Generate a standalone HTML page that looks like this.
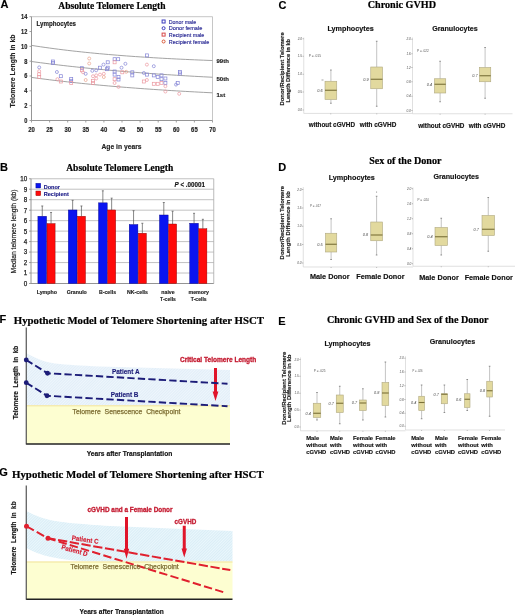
<!DOCTYPE html>
<html><head><meta charset="utf-8"><title>Telomere figure</title>
<style>
html,body{margin:0;padding:0;background:#fff;}
svg{display:block;filter:blur(0.35px);}
.s{font-family:"Liberation Sans", sans-serif;}
.r{font-family:"Liberation Serif", serif;}
</style></head>
<body>
<svg width="520" height="615" viewBox="0 0 520 615">
<defs>
<pattern id="hatch" patternUnits="userSpaceOnUse" width="2.0" height="2.0" patternTransform="rotate(45)">
<rect width="2.0" height="2.0" fill="#eef6fc"/>
<line x1="0" y1="0" x2="0" y2="2.0" stroke="#cfe2f2" stroke-width="0.8"/>
</pattern>
<pattern id="hatch2" patternUnits="userSpaceOnUse" width="2.0" height="2.0" patternTransform="rotate(45)">
<rect width="2.0" height="2.0" fill="#eaf7fc"/>
<line x1="0" y1="0" x2="0" y2="2.0" stroke="#c4e0ed" stroke-width="0.8"/>
</pattern>
<filter id="soft" x="-5%" y="-5%" width="110%" height="110%"><feGaussianBlur stdDeviation="0.5"/></filter>
</defs>
<rect width="520" height="615" fill="#fff"/>
<text class="s" x="0.60" y="8.00" font-size="11" font-weight="bold" fill="#000" stroke="#000" stroke-width="0.15">A</text>
<text class="s" x="0.00" y="170.70" font-size="11" font-weight="bold" fill="#000" stroke="#000" stroke-width="0.15">B</text>
<text class="s" x="278.50" y="8.90" font-size="11" font-weight="bold" fill="#000" stroke="#000" stroke-width="0.15">C</text>
<text class="s" x="278.20" y="170.70" font-size="11" font-weight="bold" fill="#000" stroke="#000" stroke-width="0.15">D</text>
<text class="s" x="278.20" y="324.50" font-size="11" font-weight="bold" fill="#000" stroke="#000" stroke-width="0.15">E</text>
<text class="s" x="-0.60" y="322.80" font-size="11" font-weight="bold" fill="#000" stroke="#000" stroke-width="0.15">F</text>
<text class="s" x="-0.80" y="476.40" font-size="11" font-weight="bold" fill="#000" stroke="#000" stroke-width="0.15">G</text>
<text class="r" x="58.25" y="8.65" font-size="9.7" font-weight="bold" fill="#000" textLength="107.25" lengthAdjust="spacingAndGlyphs" stroke="#000" stroke-width="0.2">Absolute Telomere Length</text>
<text class="r" x="66.25" y="170.99" font-size="9.7" font-weight="bold" fill="#000" textLength="107.00" lengthAdjust="spacingAndGlyphs" stroke="#000" stroke-width="0.2">Absolute Telomere Length</text>
<text class="r" x="367.70" y="8.40" font-size="10" font-weight="bold" fill="#000" textLength="68.30" lengthAdjust="spacingAndGlyphs" stroke="#000" stroke-width="0.2">Chronic GVHD</text>
<text class="r" x="369.20" y="164.00" font-size="10" font-weight="bold" fill="#000" textLength="72.30" lengthAdjust="spacingAndGlyphs" stroke="#000" stroke-width="0.2">Sex of the Donor</text>
<text class="r" x="326.90" y="323.20" font-size="10" font-weight="bold" fill="#000" textLength="161.60" lengthAdjust="spacingAndGlyphs" stroke="#000" stroke-width="0.2">Chronic GVHD and Sex of the Donor</text>
<text class="r" x="13.75" y="323.72" font-size="10.6" font-weight="bold" fill="#000" textLength="250.25" lengthAdjust="spacingAndGlyphs" stroke="#000" stroke-width="0.2">Hypothetic Model of Telomere Shortening after HSCT</text>
<text class="r" x="12.00" y="477.62" font-size="10.6" font-weight="bold" fill="#000" textLength="251.70" lengthAdjust="spacingAndGlyphs" stroke="#000" stroke-width="0.2">Hypothetic Model of Telomere Shortening after HSCT</text>
<line x1="31.50" y1="16.70" x2="212.50" y2="16.70" stroke="#b8b8b8" stroke-width="0.8"/>
<line x1="212.50" y1="16.70" x2="212.50" y2="120.50" stroke="#b8b8b8" stroke-width="0.8"/>
<line x1="31.50" y1="16.70" x2="31.50" y2="120.50" stroke="#8a8a8a" stroke-width="0.9"/>
<line x1="31.50" y1="120.50" x2="212.50" y2="120.50" stroke="#8a8a8a" stroke-width="0.9"/>
<line x1="31.50" y1="120.50" x2="31.50" y2="122.50" stroke="#8a8a8a" stroke-width="0.8"/>
<text class="s" x="31.50" y="131.90" font-size="6.6" font-weight="bold" text-anchor="middle" fill="#222" textLength="6.61" lengthAdjust="spacingAndGlyphs" stroke="#222" stroke-width="0.15">20</text>
<line x1="49.60" y1="120.50" x2="49.60" y2="122.50" stroke="#8a8a8a" stroke-width="0.8"/>
<text class="s" x="49.60" y="131.90" font-size="6.6" font-weight="bold" text-anchor="middle" fill="#222" textLength="6.61" lengthAdjust="spacingAndGlyphs" stroke="#222" stroke-width="0.15">25</text>
<line x1="67.70" y1="120.50" x2="67.70" y2="122.50" stroke="#8a8a8a" stroke-width="0.8"/>
<text class="s" x="67.70" y="131.90" font-size="6.6" font-weight="bold" text-anchor="middle" fill="#222" textLength="6.61" lengthAdjust="spacingAndGlyphs" stroke="#222" stroke-width="0.15">30</text>
<line x1="85.80" y1="120.50" x2="85.80" y2="122.50" stroke="#8a8a8a" stroke-width="0.8"/>
<text class="s" x="85.80" y="131.90" font-size="6.6" font-weight="bold" text-anchor="middle" fill="#222" textLength="6.61" lengthAdjust="spacingAndGlyphs" stroke="#222" stroke-width="0.15">35</text>
<line x1="103.90" y1="120.50" x2="103.90" y2="122.50" stroke="#8a8a8a" stroke-width="0.8"/>
<text class="s" x="103.90" y="131.90" font-size="6.6" font-weight="bold" text-anchor="middle" fill="#222" textLength="6.61" lengthAdjust="spacingAndGlyphs" stroke="#222" stroke-width="0.15">40</text>
<line x1="122.00" y1="120.50" x2="122.00" y2="122.50" stroke="#8a8a8a" stroke-width="0.8"/>
<text class="s" x="122.00" y="131.90" font-size="6.6" font-weight="bold" text-anchor="middle" fill="#222" textLength="6.61" lengthAdjust="spacingAndGlyphs" stroke="#222" stroke-width="0.15">45</text>
<line x1="140.10" y1="120.50" x2="140.10" y2="122.50" stroke="#8a8a8a" stroke-width="0.8"/>
<text class="s" x="140.10" y="131.90" font-size="6.6" font-weight="bold" text-anchor="middle" fill="#222" textLength="6.61" lengthAdjust="spacingAndGlyphs" stroke="#222" stroke-width="0.15">50</text>
<line x1="158.20" y1="120.50" x2="158.20" y2="122.50" stroke="#8a8a8a" stroke-width="0.8"/>
<text class="s" x="158.20" y="131.90" font-size="6.6" font-weight="bold" text-anchor="middle" fill="#222" textLength="6.61" lengthAdjust="spacingAndGlyphs" stroke="#222" stroke-width="0.15">55</text>
<line x1="176.30" y1="120.50" x2="176.30" y2="122.50" stroke="#8a8a8a" stroke-width="0.8"/>
<text class="s" x="176.30" y="131.90" font-size="6.6" font-weight="bold" text-anchor="middle" fill="#222" textLength="6.61" lengthAdjust="spacingAndGlyphs" stroke="#222" stroke-width="0.15">60</text>
<line x1="194.40" y1="120.50" x2="194.40" y2="122.50" stroke="#8a8a8a" stroke-width="0.8"/>
<text class="s" x="194.40" y="131.90" font-size="6.6" font-weight="bold" text-anchor="middle" fill="#222" textLength="6.61" lengthAdjust="spacingAndGlyphs" stroke="#222" stroke-width="0.15">65</text>
<line x1="212.50" y1="120.50" x2="212.50" y2="122.50" stroke="#8a8a8a" stroke-width="0.8"/>
<text class="s" x="212.50" y="131.90" font-size="6.6" font-weight="bold" text-anchor="middle" fill="#222" textLength="6.61" lengthAdjust="spacingAndGlyphs" stroke="#222" stroke-width="0.15">70</text>
<line x1="29.50" y1="120.50" x2="31.50" y2="120.50" stroke="#8a8a8a" stroke-width="0.8"/>
<text class="s" x="27.40" y="122.88" font-size="6.6" font-weight="bold" text-anchor="end" fill="#222" textLength="3.16" lengthAdjust="spacingAndGlyphs" stroke="#222" stroke-width="0.15">0</text>
<line x1="29.50" y1="105.67" x2="31.50" y2="105.67" stroke="#8a8a8a" stroke-width="0.8"/>
<text class="s" x="27.40" y="108.05" font-size="6.6" font-weight="bold" text-anchor="end" fill="#222" textLength="3.16" lengthAdjust="spacingAndGlyphs" stroke="#222" stroke-width="0.15">2</text>
<line x1="29.50" y1="90.84" x2="31.50" y2="90.84" stroke="#8a8a8a" stroke-width="0.8"/>
<text class="s" x="27.40" y="93.22" font-size="6.6" font-weight="bold" text-anchor="end" fill="#222" textLength="3.16" lengthAdjust="spacingAndGlyphs" stroke="#222" stroke-width="0.15">4</text>
<line x1="29.50" y1="76.01" x2="31.50" y2="76.01" stroke="#8a8a8a" stroke-width="0.8"/>
<text class="s" x="27.40" y="78.39" font-size="6.6" font-weight="bold" text-anchor="end" fill="#222" textLength="3.16" lengthAdjust="spacingAndGlyphs" stroke="#222" stroke-width="0.15">6</text>
<line x1="29.50" y1="61.19" x2="31.50" y2="61.19" stroke="#8a8a8a" stroke-width="0.8"/>
<text class="s" x="27.40" y="63.56" font-size="6.6" font-weight="bold" text-anchor="end" fill="#222" textLength="3.16" lengthAdjust="spacingAndGlyphs" stroke="#222" stroke-width="0.15">8</text>
<line x1="29.50" y1="46.36" x2="31.50" y2="46.36" stroke="#8a8a8a" stroke-width="0.8"/>
<text class="s" x="27.40" y="48.73" font-size="6.6" font-weight="bold" text-anchor="end" fill="#222" textLength="6.31" lengthAdjust="spacingAndGlyphs" stroke="#222" stroke-width="0.15">10</text>
<line x1="29.50" y1="31.53" x2="31.50" y2="31.53" stroke="#8a8a8a" stroke-width="0.8"/>
<text class="s" x="27.40" y="33.90" font-size="6.6" font-weight="bold" text-anchor="end" fill="#222" textLength="6.31" lengthAdjust="spacingAndGlyphs" stroke="#222" stroke-width="0.15">12</text>
<line x1="29.50" y1="16.70" x2="31.50" y2="16.70" stroke="#8a8a8a" stroke-width="0.8"/>
<text class="s" x="27.40" y="19.08" font-size="6.6" font-weight="bold" text-anchor="end" fill="#222" textLength="6.31" lengthAdjust="spacingAndGlyphs" stroke="#222" stroke-width="0.15">14</text>
<text class="s" x="121.50" y="148.91" font-size="6.7" font-weight="bold" text-anchor="middle" fill="#222" textLength="40.00" lengthAdjust="spacingAndGlyphs" stroke="#222" stroke-width="0.15">Age in years</text>
<text class="s" x="15.23" y="71.00" font-size="7.3" font-weight="bold" text-anchor="middle" fill="#222" textLength="73.00" lengthAdjust="spacingAndGlyphs" transform="rotate(-90 15.23 71.00)" stroke="#222" stroke-width="0.15">Telomere Length in kb</text>
<text class="s" x="36.50" y="26.07" font-size="6.3" font-weight="bold" fill="#222" textLength="39.50" lengthAdjust="spacingAndGlyphs" stroke="#222" stroke-width="0.15">Lymphocytes</text>
<polyline points="31.5,45.40 36.0,46.10 40.5,46.78 45.1,47.43 49.6,48.06 54.1,48.67 58.6,49.26 63.2,49.82 67.7,50.37 72.2,50.90 76.8,51.40 81.3,51.89 85.8,52.37 90.3,52.82 94.8,53.26 99.4,53.68 103.9,54.09 108.4,54.49 113.0,54.87 117.5,55.23 122.0,55.59 126.5,55.93 131.1,56.26 135.6,56.58 140.1,56.88 144.6,57.18 149.2,57.46 153.7,57.74 158.2,58.00 162.7,58.26 167.2,58.50 171.8,58.74 176.3,58.97 180.8,59.19 185.3,59.40 189.9,59.61 194.4,59.81 198.9,60.00 203.4,60.18 208.0,60.36 212.5,60.53" fill="none" stroke="#999" stroke-width="0.9"/>
<polyline points="31.5,61.51 36.0,62.12 40.5,62.72 45.1,63.30 49.6,63.88 54.1,64.43 58.6,64.97 63.2,65.50 67.7,66.02 72.2,66.52 76.8,67.02 81.3,67.49 85.8,67.96 90.3,68.42 94.8,68.86 99.4,69.30 103.9,69.72 108.4,70.13 113.0,70.53 117.5,70.93 122.0,71.31 126.5,71.68 131.1,72.05 135.6,72.40 140.1,72.75 144.6,73.09 149.2,73.42 153.7,73.74 158.2,74.05 162.7,74.36 167.2,74.66 171.8,74.95 176.3,75.23 180.8,75.51 185.3,75.78 189.9,76.04 194.4,76.30 198.9,76.55 203.4,76.79 208.0,77.03 212.5,77.26" fill="none" stroke="#999" stroke-width="0.9"/>
<polyline points="31.5,77.42 36.0,78.04 40.5,78.63 45.1,79.21 49.6,79.78 54.1,80.33 58.6,80.86 63.2,81.39 67.7,81.89 72.2,82.39 76.8,82.87 81.3,83.35 85.8,83.80 90.3,84.25 94.8,84.69 99.4,85.11 103.9,85.53 108.4,85.93 113.0,86.32 117.5,86.70 122.0,87.08 126.5,87.44 131.1,87.79 135.6,88.14 140.1,88.47 144.6,88.80 149.2,89.12 153.7,89.43 158.2,89.73 162.7,90.03 167.2,90.32 171.8,90.60 176.3,90.87 180.8,91.14 185.3,91.40 189.9,91.65 194.4,91.89 198.9,92.13 203.4,92.37 208.0,92.60 212.5,92.82" fill="none" stroke="#999" stroke-width="0.9"/>
<text class="s" x="216.50" y="63.16" font-size="6" font-weight="bold" fill="#222" stroke="#222" stroke-width="0.15">99th</text>
<text class="s" x="216.50" y="80.76" font-size="6" font-weight="bold" fill="#222" stroke="#222" stroke-width="0.15">50th</text>
<text class="s" x="216.50" y="97.16" font-size="6" font-weight="bold" fill="#222" stroke="#222" stroke-width="0.15">1st</text>
<rect x="162.10" y="20.00" width="3.0" height="3.0" fill="none" stroke="#3c3cc0" stroke-width="1.0"/>
<text class="s" x="168.80" y="23.52" font-size="5.6" fill="#2c2c96" textLength="27.40" lengthAdjust="spacingAndGlyphs" stroke="#2c2c96" stroke-width="0.15">Donor male</text>
<circle cx="163.60" cy="28.20" r="1.50" fill="none" stroke="#3c3cc0" stroke-width="1.0"/>
<text class="s" x="168.80" y="30.22" font-size="5.6" fill="#2c2c96" textLength="33.50" lengthAdjust="spacingAndGlyphs" stroke="#2c2c96" stroke-width="0.15">Donor female</text>
<rect x="162.10" y="33.10" width="3.0" height="3.0" fill="none" stroke="#d84848" stroke-width="1.0"/>
<text class="s" x="168.80" y="36.62" font-size="5.6" fill="#2c2c96" textLength="35.50" lengthAdjust="spacingAndGlyphs" stroke="#2c2c96" stroke-width="0.15">Recipient male</text>
<circle cx="163.60" cy="41.50" r="1.50" fill="none" stroke="#d85a3a" stroke-width="1.0"/>
<text class="s" x="168.80" y="43.52" font-size="5.6" fill="#2c2c96" textLength="40.40" lengthAdjust="spacingAndGlyphs" stroke="#2c2c96" stroke-width="0.15">Recipient female</text>
<circle cx="39.20" cy="67.40" r="1.50" fill="none" stroke="#8484d6" stroke-width="0.7"/>
<circle cx="39.20" cy="71.20" r="1.50" fill="none" stroke="#ec98a0" stroke-width="0.7"/>
<rect x="37.70" y="72.80" width="3.0" height="3.0" fill="none" stroke="#ec98a0" stroke-width="0.7"/>
<rect x="37.70" y="75.40" width="3.0" height="3.0" fill="none" stroke="#ec98a0" stroke-width="0.7"/>
<rect x="51.50" y="60.00" width="3.0" height="3.0" fill="none" stroke="#8484d6" stroke-width="0.7"/>
<rect x="51.50" y="61.50" width="3.0" height="3.0" fill="none" stroke="#8484d6" stroke-width="0.7"/>
<circle cx="56.90" cy="72.00" r="1.50" fill="none" stroke="#8484d6" stroke-width="0.7"/>
<rect x="59.30" y="74.70" width="3.0" height="3.0" fill="none" stroke="#8484d6" stroke-width="0.7"/>
<circle cx="57.40" cy="79.20" r="1.50" fill="none" stroke="#ec98a0" stroke-width="0.7"/>
<rect x="59.30" y="80.00" width="3.0" height="3.0" fill="none" stroke="#ec98a0" stroke-width="0.7"/>
<rect x="69.70" y="77.40" width="3.0" height="3.0" fill="none" stroke="#8484d6" stroke-width="0.7"/>
<rect x="69.70" y="79.30" width="3.0" height="3.0" fill="none" stroke="#8484d6" stroke-width="0.7"/>
<rect x="69.70" y="81.50" width="3.0" height="3.0" fill="none" stroke="#ec98a0" stroke-width="0.7"/>
<rect x="80.50" y="66.70" width="3.0" height="3.0" fill="none" stroke="#8484d6" stroke-width="0.7"/>
<rect x="80.50" y="68.80" width="3.0" height="3.0" fill="none" stroke="#ec98a0" stroke-width="0.7"/>
<circle cx="83.00" cy="72.30" r="1.50" fill="none" stroke="#ec98a0" stroke-width="0.7"/>
<circle cx="85.70" cy="73.80" r="1.50" fill="none" stroke="#8484d6" stroke-width="0.7"/>
<circle cx="89.20" cy="58.50" r="1.50" fill="none" stroke="#eaa48c" stroke-width="0.7"/>
<circle cx="89.20" cy="63.50" r="1.50" fill="none" stroke="#eaa48c" stroke-width="0.7"/>
<circle cx="85.70" cy="80.00" r="1.50" fill="none" stroke="#eaa48c" stroke-width="0.7"/>
<circle cx="92.30" cy="70.80" r="1.50" fill="none" stroke="#8484d6" stroke-width="0.7"/>
<circle cx="93.00" cy="76.20" r="1.50" fill="none" stroke="#ec98a0" stroke-width="0.7"/>
<rect x="91.50" y="79.30" width="3.0" height="3.0" fill="none" stroke="#ec98a0" stroke-width="0.7"/>
<rect x="91.50" y="81.50" width="3.0" height="3.0" fill="none" stroke="#ec98a0" stroke-width="0.7"/>
<circle cx="96.20" cy="70.30" r="1.50" fill="none" stroke="#8484d6" stroke-width="0.7"/>
<circle cx="96.20" cy="75.40" r="1.50" fill="none" stroke="#ec98a0" stroke-width="0.7"/>
<circle cx="96.20" cy="78.50" r="1.50" fill="none" stroke="#ec98a0" stroke-width="0.7"/>
<rect x="98.50" y="66.20" width="3.0" height="3.0" fill="none" stroke="#8484d6" stroke-width="0.7"/>
<circle cx="100.00" cy="74.60" r="1.50" fill="none" stroke="#ec98a0" stroke-width="0.7"/>
<circle cx="103.50" cy="64.60" r="1.50" fill="none" stroke="#8484d6" stroke-width="0.7"/>
<circle cx="103.80" cy="73.80" r="1.50" fill="none" stroke="#ec98a0" stroke-width="0.7"/>
<circle cx="103.80" cy="77.00" r="1.50" fill="none" stroke="#eaa48c" stroke-width="0.7"/>
<rect x="106.20" y="60.80" width="3.0" height="3.0" fill="none" stroke="#8484d6" stroke-width="0.7"/>
<rect x="106.20" y="66.20" width="3.0" height="3.0" fill="none" stroke="#8484d6" stroke-width="0.7"/>
<rect x="105.40" y="67.70" width="3.0" height="3.0" fill="none" stroke="#8484d6" stroke-width="0.7"/>
<rect x="113.10" y="57.70" width="3.0" height="3.0" fill="none" stroke="#8484d6" stroke-width="0.7"/>
<rect x="113.10" y="60.80" width="3.0" height="3.0" fill="none" stroke="#ec98a0" stroke-width="0.7"/>
<rect x="116.70" y="57.70" width="3.0" height="3.0" fill="none" stroke="#8484d6" stroke-width="0.7"/>
<circle cx="125.40" cy="63.80" r="1.50" fill="none" stroke="#8484d6" stroke-width="0.7"/>
<circle cx="121.50" cy="67.70" r="1.50" fill="none" stroke="#8484d6" stroke-width="0.7"/>
<rect x="113.10" y="70.00" width="3.0" height="3.0" fill="none" stroke="#8484d6" stroke-width="0.7"/>
<rect x="113.10" y="73.10" width="3.0" height="3.0" fill="none" stroke="#8484d6" stroke-width="0.7"/>
<rect x="113.10" y="77.70" width="3.0" height="3.0" fill="none" stroke="#ec98a0" stroke-width="0.7"/>
<circle cx="114.60" cy="83.00" r="1.50" fill="none" stroke="#ec98a0" stroke-width="0.7"/>
<rect x="117.00" y="75.50" width="3.0" height="3.0" fill="none" stroke="#8484d6" stroke-width="0.7"/>
<rect x="117.00" y="78.00" width="3.0" height="3.0" fill="none" stroke="#8484d6" stroke-width="0.7"/>
<circle cx="118.50" cy="86.90" r="1.50" fill="none" stroke="#ec98a0" stroke-width="0.7"/>
<rect x="120.80" y="70.80" width="3.0" height="3.0" fill="none" stroke="#ec98a0" stroke-width="0.7"/>
<circle cx="126.20" cy="71.80" r="1.50" fill="none" stroke="#eaa48c" stroke-width="0.7"/>
<rect x="130.80" y="70.80" width="3.0" height="3.0" fill="none" stroke="#8484d6" stroke-width="0.7"/>
<rect x="130.80" y="73.90" width="3.0" height="3.0" fill="none" stroke="#8484d6" stroke-width="0.7"/>
<circle cx="143.80" cy="73.00" r="1.50" fill="none" stroke="#8484d6" stroke-width="0.7"/>
<rect x="145.40" y="53.90" width="3.0" height="3.0" fill="none" stroke="#8484d6" stroke-width="0.7"/>
<circle cx="146.90" cy="64.60" r="1.50" fill="none" stroke="#ec98a0" stroke-width="0.7"/>
<rect x="145.40" y="73.10" width="3.0" height="3.0" fill="none" stroke="#8484d6" stroke-width="0.7"/>
<rect x="142.30" y="80.00" width="3.0" height="3.0" fill="none" stroke="#ec98a0" stroke-width="0.7"/>
<circle cx="146.90" cy="80.00" r="1.50" fill="none" stroke="#ec98a0" stroke-width="0.7"/>
<circle cx="153.80" cy="66.20" r="1.50" fill="none" stroke="#8484d6" stroke-width="0.7"/>
<rect x="152.30" y="73.90" width="3.0" height="3.0" fill="none" stroke="#8484d6" stroke-width="0.7"/>
<rect x="152.30" y="82.30" width="3.0" height="3.0" fill="none" stroke="#ec98a0" stroke-width="0.7"/>
<rect x="156.20" y="75.50" width="3.0" height="3.0" fill="none" stroke="#8484d6" stroke-width="0.7"/>
<rect x="156.20" y="82.30" width="3.0" height="3.0" fill="none" stroke="#ec98a0" stroke-width="0.7"/>
<rect x="160.00" y="73.90" width="3.0" height="3.0" fill="none" stroke="#8484d6" stroke-width="0.7"/>
<rect x="160.00" y="77.70" width="3.0" height="3.0" fill="none" stroke="#8484d6" stroke-width="0.7"/>
<rect x="160.00" y="81.50" width="3.0" height="3.0" fill="none" stroke="#ec98a0" stroke-width="0.7"/>
<rect x="163.90" y="77.00" width="3.0" height="3.0" fill="none" stroke="#8484d6" stroke-width="0.7"/>
<rect x="163.90" y="81.50" width="3.0" height="3.0" fill="none" stroke="#8484d6" stroke-width="0.7"/>
<circle cx="165.40" cy="86.20" r="1.50" fill="none" stroke="#ec98a0" stroke-width="0.7"/>
<circle cx="165.40" cy="91.50" r="1.50" fill="none" stroke="#ec98a0" stroke-width="0.7"/>
<rect x="176.20" y="81.50" width="3.0" height="3.0" fill="none" stroke="#8484d6" stroke-width="0.7"/>
<circle cx="179.20" cy="93.80" r="1.50" fill="none" stroke="#ec98a0" stroke-width="0.7"/>
<rect x="178.50" y="70.50" width="3.0" height="3.0" fill="none" stroke="#8484d6" stroke-width="0.7"/>
<rect x="178.50" y="72.00" width="3.0" height="3.0" fill="none" stroke="#8484d6" stroke-width="0.7"/>
<circle cx="176.00" cy="84.60" r="1.50" fill="none" stroke="#8484d6" stroke-width="0.7"/>
<line x1="31.00" y1="273.02" x2="213.75" y2="273.02" stroke="#a8a8a8" stroke-width="0.7"/>
<line x1="31.00" y1="262.55" x2="213.75" y2="262.55" stroke="#a8a8a8" stroke-width="0.7"/>
<line x1="31.00" y1="252.07" x2="213.75" y2="252.07" stroke="#a8a8a8" stroke-width="0.7"/>
<line x1="31.00" y1="241.60" x2="213.75" y2="241.60" stroke="#a8a8a8" stroke-width="0.7"/>
<line x1="31.00" y1="231.12" x2="213.75" y2="231.12" stroke="#a8a8a8" stroke-width="0.7"/>
<line x1="31.00" y1="220.65" x2="213.75" y2="220.65" stroke="#a8a8a8" stroke-width="0.7"/>
<line x1="31.00" y1="210.18" x2="213.75" y2="210.18" stroke="#a8a8a8" stroke-width="0.7"/>
<line x1="31.00" y1="199.70" x2="213.75" y2="199.70" stroke="#a8a8a8" stroke-width="0.7"/>
<line x1="31.00" y1="189.22" x2="213.75" y2="189.22" stroke="#a8a8a8" stroke-width="0.7"/>
<line x1="31.00" y1="178.75" x2="213.75" y2="178.75" stroke="#a8a8a8" stroke-width="0.7"/>
<line x1="213.75" y1="178.75" x2="213.75" y2="283.50" stroke="#a8a8a8" stroke-width="0.8"/>
<line x1="31.00" y1="178.75" x2="31.00" y2="283.50" stroke="#888" stroke-width="0.9"/>
<line x1="31.00" y1="283.50" x2="213.75" y2="283.50" stroke="#888" stroke-width="0.9"/>
<line x1="29.00" y1="283.50" x2="31.00" y2="283.50" stroke="#888" stroke-width="0.8"/>
<text class="s" x="27.20" y="285.88" font-size="6.6" text-anchor="end" fill="#222" textLength="3.49" lengthAdjust="spacingAndGlyphs" stroke="#222" stroke-width="0.25">0</text>
<line x1="29.00" y1="273.02" x2="31.00" y2="273.02" stroke="#888" stroke-width="0.8"/>
<text class="s" x="27.20" y="275.40" font-size="6.6" text-anchor="end" fill="#222" textLength="3.49" lengthAdjust="spacingAndGlyphs" stroke="#222" stroke-width="0.25">1</text>
<line x1="29.00" y1="262.55" x2="31.00" y2="262.55" stroke="#888" stroke-width="0.8"/>
<text class="s" x="27.20" y="264.93" font-size="6.6" text-anchor="end" fill="#222" textLength="3.49" lengthAdjust="spacingAndGlyphs" stroke="#222" stroke-width="0.25">2</text>
<line x1="29.00" y1="252.07" x2="31.00" y2="252.07" stroke="#888" stroke-width="0.8"/>
<text class="s" x="27.20" y="254.45" font-size="6.6" text-anchor="end" fill="#222" textLength="3.49" lengthAdjust="spacingAndGlyphs" stroke="#222" stroke-width="0.25">3</text>
<line x1="29.00" y1="241.60" x2="31.00" y2="241.60" stroke="#888" stroke-width="0.8"/>
<text class="s" x="27.20" y="243.98" font-size="6.6" text-anchor="end" fill="#222" textLength="3.49" lengthAdjust="spacingAndGlyphs" stroke="#222" stroke-width="0.25">4</text>
<line x1="29.00" y1="231.12" x2="31.00" y2="231.12" stroke="#888" stroke-width="0.8"/>
<text class="s" x="27.20" y="233.50" font-size="6.6" text-anchor="end" fill="#222" textLength="3.49" lengthAdjust="spacingAndGlyphs" stroke="#222" stroke-width="0.25">5</text>
<line x1="29.00" y1="220.65" x2="31.00" y2="220.65" stroke="#888" stroke-width="0.8"/>
<text class="s" x="27.20" y="223.03" font-size="6.6" text-anchor="end" fill="#222" textLength="3.49" lengthAdjust="spacingAndGlyphs" stroke="#222" stroke-width="0.25">6</text>
<line x1="29.00" y1="210.18" x2="31.00" y2="210.18" stroke="#888" stroke-width="0.8"/>
<text class="s" x="27.20" y="212.55" font-size="6.6" text-anchor="end" fill="#222" textLength="3.49" lengthAdjust="spacingAndGlyphs" stroke="#222" stroke-width="0.25">7</text>
<line x1="29.00" y1="199.70" x2="31.00" y2="199.70" stroke="#888" stroke-width="0.8"/>
<text class="s" x="27.20" y="202.08" font-size="6.6" text-anchor="end" fill="#222" textLength="3.49" lengthAdjust="spacingAndGlyphs" stroke="#222" stroke-width="0.25">8</text>
<line x1="29.00" y1="189.22" x2="31.00" y2="189.22" stroke="#888" stroke-width="0.8"/>
<text class="s" x="27.20" y="191.60" font-size="6.6" text-anchor="end" fill="#222" textLength="3.49" lengthAdjust="spacingAndGlyphs" stroke="#222" stroke-width="0.25">9</text>
<line x1="29.00" y1="178.75" x2="31.00" y2="178.75" stroke="#888" stroke-width="0.8"/>
<text class="s" x="27.20" y="181.13" font-size="6.6" text-anchor="end" fill="#222" textLength="6.97" lengthAdjust="spacingAndGlyphs" stroke="#222" stroke-width="0.25">10</text>
<line x1="42.25" y1="216.25" x2="42.25" y2="205.98" stroke="#555" stroke-width="0.7"/>
<line x1="41.25" y1="205.98" x2="43.25" y2="205.98" stroke="#555" stroke-width="0.7"/>
<rect x="37.90" y="216.25" width="8.70" height="67.25" fill="#0a14f0" stroke="#000080" stroke-width="0.4"/>
<line x1="51.05" y1="223.58" x2="51.05" y2="212.48" stroke="#555" stroke-width="0.7"/>
<line x1="50.05" y1="212.48" x2="52.05" y2="212.48" stroke="#555" stroke-width="0.7"/>
<rect x="47.00" y="223.58" width="8.10" height="59.92" fill="#ff0a0a" stroke="#800000" stroke-width="0.4"/>
<line x1="72.65" y1="209.97" x2="72.65" y2="200.33" stroke="#555" stroke-width="0.7"/>
<line x1="71.65" y1="200.33" x2="73.65" y2="200.33" stroke="#555" stroke-width="0.7"/>
<rect x="68.30" y="209.97" width="8.70" height="73.53" fill="#0a14f0" stroke="#000080" stroke-width="0.4"/>
<line x1="81.45" y1="216.25" x2="81.45" y2="205.98" stroke="#555" stroke-width="0.7"/>
<line x1="80.45" y1="205.98" x2="82.45" y2="205.98" stroke="#555" stroke-width="0.7"/>
<rect x="77.40" y="216.25" width="8.10" height="67.25" fill="#ff0a0a" stroke="#800000" stroke-width="0.4"/>
<line x1="102.85" y1="202.84" x2="102.85" y2="190.80" stroke="#555" stroke-width="0.7"/>
<line x1="101.85" y1="190.80" x2="103.85" y2="190.80" stroke="#555" stroke-width="0.7"/>
<rect x="98.50" y="202.84" width="8.70" height="80.66" fill="#0a14f0" stroke="#000080" stroke-width="0.4"/>
<line x1="111.65" y1="209.97" x2="111.65" y2="198.13" stroke="#555" stroke-width="0.7"/>
<line x1="110.65" y1="198.13" x2="112.65" y2="198.13" stroke="#555" stroke-width="0.7"/>
<rect x="107.60" y="209.97" width="8.10" height="73.53" fill="#ff0a0a" stroke="#800000" stroke-width="0.4"/>
<line x1="133.55" y1="224.53" x2="133.55" y2="210.70" stroke="#555" stroke-width="0.7"/>
<line x1="132.55" y1="210.70" x2="134.55" y2="210.70" stroke="#555" stroke-width="0.7"/>
<rect x="129.20" y="224.53" width="8.70" height="58.97" fill="#0a14f0" stroke="#000080" stroke-width="0.4"/>
<line x1="142.35" y1="233.22" x2="142.35" y2="223.27" stroke="#555" stroke-width="0.7"/>
<line x1="141.35" y1="223.27" x2="143.35" y2="223.27" stroke="#555" stroke-width="0.7"/>
<rect x="138.30" y="233.22" width="8.10" height="50.28" fill="#ff0a0a" stroke="#800000" stroke-width="0.4"/>
<line x1="163.80" y1="214.99" x2="163.80" y2="202.53" stroke="#555" stroke-width="0.7"/>
<line x1="162.80" y1="202.53" x2="164.80" y2="202.53" stroke="#555" stroke-width="0.7"/>
<rect x="159.45" y="214.99" width="8.70" height="68.51" fill="#0a14f0" stroke="#000080" stroke-width="0.4"/>
<line x1="172.60" y1="224.00" x2="172.60" y2="211.22" stroke="#555" stroke-width="0.7"/>
<line x1="171.60" y1="211.22" x2="173.60" y2="211.22" stroke="#555" stroke-width="0.7"/>
<rect x="168.55" y="224.00" width="8.10" height="59.50" fill="#ff0a0a" stroke="#800000" stroke-width="0.4"/>
<line x1="194.05" y1="223.27" x2="194.05" y2="213.32" stroke="#555" stroke-width="0.7"/>
<line x1="193.05" y1="213.32" x2="195.05" y2="213.32" stroke="#555" stroke-width="0.7"/>
<rect x="189.70" y="223.27" width="8.70" height="60.23" fill="#0a14f0" stroke="#000080" stroke-width="0.4"/>
<line x1="202.85" y1="228.72" x2="202.85" y2="219.29" stroke="#555" stroke-width="0.7"/>
<line x1="201.85" y1="219.29" x2="203.85" y2="219.29" stroke="#555" stroke-width="0.7"/>
<rect x="198.80" y="228.72" width="8.10" height="54.78" fill="#ff0a0a" stroke="#800000" stroke-width="0.4"/>
<rect x="35.90" y="183.30" width="4.80" height="4.70" fill="#0a14f0" stroke="#000080" stroke-width="0.4"/>
<rect x="35.90" y="191.00" width="4.80" height="4.70" fill="#ff0a0a" stroke="#800000" stroke-width="0.4"/>
<text class="s" x="43.75" y="188.53" font-size="6.2" font-weight="bold" fill="#20208a" textLength="16.25" lengthAdjust="spacingAndGlyphs" stroke="#20208a" stroke-width="0.15">Donor</text>
<text class="s" x="43.75" y="196.03" font-size="6.2" font-weight="bold" fill="#20208a" textLength="25.00" lengthAdjust="spacingAndGlyphs" stroke="#20208a" stroke-width="0.15">Recipient</text>
<text class="s" x="174.50" y="186.75" font-size="6.8" font-weight="bold" fill="#111" textLength="30.50" lengthAdjust="spacingAndGlyphs" stroke="#111" stroke-width="0.15"><tspan font-style="italic">P</tspan> &lt; .00001</text>
<text class="s" x="46.75" y="293.50" font-size="5.9" font-weight="bold" text-anchor="middle" fill="#222" textLength="20.22" lengthAdjust="spacingAndGlyphs" stroke="#222" stroke-width="0.15">Lympho</text>
<text class="s" x="76.75" y="293.50" font-size="5.9" font-weight="bold" text-anchor="middle" fill="#222" textLength="20.13" lengthAdjust="spacingAndGlyphs" stroke="#222" stroke-width="0.15">Granulo</text>
<text class="s" x="107.50" y="293.50" font-size="5.9" font-weight="bold" text-anchor="middle" fill="#222" textLength="17.22" lengthAdjust="spacingAndGlyphs" stroke="#222" stroke-width="0.15">B-cells</text>
<text class="s" x="137.50" y="293.50" font-size="5.9" font-weight="bold" text-anchor="middle" fill="#222" textLength="21.01" lengthAdjust="spacingAndGlyphs" stroke="#222" stroke-width="0.15">NK-cells</text>
<text class="s" x="168.00" y="293.50" font-size="5.9" font-weight="bold" text-anchor="middle" fill="#222" textLength="13.43" lengthAdjust="spacingAndGlyphs" stroke="#222" stroke-width="0.15">naive</text>
<text class="s" x="168.00" y="300.80" font-size="5.9" font-weight="bold" text-anchor="middle" fill="#222" textLength="15.79" lengthAdjust="spacingAndGlyphs" stroke="#222" stroke-width="0.15">T-cells</text>
<text class="s" x="198.75" y="293.50" font-size="5.9" font-weight="bold" text-anchor="middle" fill="#222" textLength="20.43" lengthAdjust="spacingAndGlyphs" stroke="#222" stroke-width="0.15">memory</text>
<text class="s" x="198.75" y="300.80" font-size="5.9" font-weight="bold" text-anchor="middle" fill="#222" textLength="15.79" lengthAdjust="spacingAndGlyphs" stroke="#222" stroke-width="0.15">T-cells</text>
<text class="s" x="15.68" y="231.50" font-size="6.9" text-anchor="middle" fill="#222" textLength="84.00" lengthAdjust="spacingAndGlyphs" transform="rotate(-90 15.68 231.50)" stroke="#222" stroke-width="0.2">Median telomere length (kb)</text>
<text class="s" x="350.60" y="31.34" font-size="7.2" font-weight="bold" text-anchor="middle" fill="#111" textLength="46.25" lengthAdjust="spacingAndGlyphs" stroke="#111" stroke-width="0.15">Lymphocytes</text>
<text class="s" x="455.00" y="30.86" font-size="7.1" font-weight="bold" text-anchor="middle" fill="#111" textLength="45.50" lengthAdjust="spacingAndGlyphs" stroke="#111" stroke-width="0.15">Granulocytes</text>
<line x1="303.75" y1="37.50" x2="303.75" y2="113.40" stroke="#d2d2d2" stroke-width="0.7"/>
<line x1="303.75" y1="113.40" x2="412.50" y2="113.40" stroke="#d2d2d2" stroke-width="0.7"/>
<line x1="302.55" y1="38.75" x2="303.75" y2="38.75" stroke="#888" stroke-width="0.6"/>
<text class="s" x="302.15" y="39.90" font-size="3.2" font-style="italic" text-anchor="end" fill="#555">2.0</text>
<line x1="302.55" y1="56.25" x2="303.75" y2="56.25" stroke="#888" stroke-width="0.6"/>
<text class="s" x="302.15" y="57.40" font-size="3.2" font-style="italic" text-anchor="end" fill="#555">1.5</text>
<line x1="302.55" y1="74.25" x2="303.75" y2="74.25" stroke="#888" stroke-width="0.6"/>
<text class="s" x="302.15" y="75.40" font-size="3.2" font-style="italic" text-anchor="end" fill="#555">1.0</text>
<line x1="302.55" y1="92.00" x2="303.75" y2="92.00" stroke="#888" stroke-width="0.6"/>
<text class="s" x="302.15" y="93.15" font-size="3.2" font-style="italic" text-anchor="end" fill="#555">0.5</text>
<line x1="302.55" y1="110.00" x2="303.75" y2="110.00" stroke="#888" stroke-width="0.6"/>
<text class="s" x="302.15" y="111.15" font-size="3.2" font-style="italic" text-anchor="end" fill="#555">0.0</text>
<line x1="330.75" y1="113.40" x2="330.75" y2="114.40" stroke="#999" stroke-width="0.6"/>
<line x1="376.75" y1="113.40" x2="376.75" y2="114.40" stroke="#999" stroke-width="0.6"/>
<line x1="330.90" y1="70.00" x2="330.90" y2="81.25" stroke="#ababab" stroke-width="0.7"/>
<line x1="330.90" y1="99.50" x2="330.90" y2="103.25" stroke="#ababab" stroke-width="0.7"/>
<line x1="330.10" y1="70.00" x2="331.70" y2="70.00" stroke="#666" stroke-width="0.7"/>
<line x1="330.10" y1="103.25" x2="331.70" y2="103.25" stroke="#666" stroke-width="0.7"/>
<rect x="325.00" y="81.25" width="11.75" height="18.25" fill="#e2d99e" stroke="#b0a880" stroke-width="0.6"/>
<line x1="325.00" y1="90.25" x2="336.75" y2="90.25" stroke="#7a7038" stroke-width="1.1"/>
<text class="s" x="320.00" y="91.62" font-size="3.8" font-style="italic" text-anchor="middle" fill="#444">0.6</text>
<line x1="321.5" y1="80" x2="323.5" y2="80" stroke="#666" stroke-width="0.6"/>
<line x1="376.70" y1="41.25" x2="376.70" y2="67.00" stroke="#ababab" stroke-width="0.7"/>
<line x1="376.70" y1="88.75" x2="376.70" y2="106.25" stroke="#ababab" stroke-width="0.7"/>
<line x1="375.90" y1="41.25" x2="377.50" y2="41.25" stroke="#666" stroke-width="0.7"/>
<line x1="375.90" y1="106.25" x2="377.50" y2="106.25" stroke="#666" stroke-width="0.7"/>
<rect x="370.75" y="67.00" width="11.75" height="21.75" fill="#e2d99e" stroke="#b0a880" stroke-width="0.6"/>
<line x1="370.75" y1="79.25" x2="382.50" y2="79.25" stroke="#7a7038" stroke-width="1.1"/>
<text class="s" x="366.00" y="80.62" font-size="3.8" font-style="italic" text-anchor="middle" fill="#444">0.9</text>
<text class="s" x="308.75" y="56.97" font-size="3.4" fill="#555" textLength="12.25" lengthAdjust="spacingAndGlyphs">P = .015</text>
<text class="s" x="331.90" y="127.30" font-size="6.4" font-weight="bold" text-anchor="middle" fill="#111" textLength="46.25" lengthAdjust="spacingAndGlyphs" stroke="#111" stroke-width="0.15">without cGVHD</text>
<text class="s" x="378.00" y="127.30" font-size="6.4" font-weight="bold" text-anchor="middle" fill="#111" stroke="#111" stroke-width="0.15">with cGVHD</text>
<text class="s" x="284.30" y="68.90" font-size="5.7" font-weight="bold" text-anchor="middle" fill="#222" textLength="73.20" lengthAdjust="spacingAndGlyphs" transform="rotate(-90 284.30 68.90)" stroke="#222" stroke-width="0.15">Donor/Recipient Telomere</text>
<text class="s" x="290.00" y="70.75" font-size="5.7" font-weight="bold" text-anchor="middle" fill="#222" textLength="63.70" lengthAdjust="spacingAndGlyphs" transform="rotate(-90 290.00 70.75)" stroke="#222" stroke-width="0.15">Length Difference in kb</text>
<line x1="412.50" y1="37.50" x2="412.50" y2="113.75" stroke="#d2d2d2" stroke-width="0.7"/>
<line x1="412.50" y1="113.75" x2="512.50" y2="113.75" stroke="#d2d2d2" stroke-width="0.7"/>
<line x1="411.30" y1="39.25" x2="412.50" y2="39.25" stroke="#888" stroke-width="0.6"/>
<text class="s" x="410.90" y="40.40" font-size="3.2" font-style="italic" text-anchor="end" fill="#555">2.0</text>
<line x1="411.30" y1="53.75" x2="412.50" y2="53.75" stroke="#888" stroke-width="0.6"/>
<text class="s" x="410.90" y="54.90" font-size="3.2" font-style="italic" text-anchor="end" fill="#555">1.6</text>
<line x1="411.30" y1="67.50" x2="412.50" y2="67.50" stroke="#888" stroke-width="0.6"/>
<text class="s" x="410.90" y="68.65" font-size="3.2" font-style="italic" text-anchor="end" fill="#555">1.2</text>
<line x1="411.30" y1="81.75" x2="412.50" y2="81.75" stroke="#888" stroke-width="0.6"/>
<text class="s" x="410.90" y="82.90" font-size="3.2" font-style="italic" text-anchor="end" fill="#555">0.8</text>
<line x1="411.30" y1="96.25" x2="412.50" y2="96.25" stroke="#888" stroke-width="0.6"/>
<text class="s" x="410.90" y="97.40" font-size="3.2" font-style="italic" text-anchor="end" fill="#555">0.4</text>
<line x1="411.30" y1="110.50" x2="412.50" y2="110.50" stroke="#888" stroke-width="0.6"/>
<text class="s" x="410.90" y="111.65" font-size="3.2" font-style="italic" text-anchor="end" fill="#555">0.0</text>
<line x1="440.10" y1="113.75" x2="440.10" y2="114.75" stroke="#999" stroke-width="0.6"/>
<line x1="485.10" y1="113.75" x2="485.10" y2="114.75" stroke="#999" stroke-width="0.6"/>
<line x1="440.10" y1="61.25" x2="440.10" y2="78.75" stroke="#ababab" stroke-width="0.7"/>
<line x1="440.10" y1="93.00" x2="440.10" y2="101.75" stroke="#ababab" stroke-width="0.7"/>
<line x1="439.30" y1="61.25" x2="440.90" y2="61.25" stroke="#666" stroke-width="0.7"/>
<line x1="439.30" y1="101.75" x2="440.90" y2="101.75" stroke="#666" stroke-width="0.7"/>
<rect x="434.50" y="78.75" width="11.25" height="14.25" fill="#e2d99e" stroke="#b0a880" stroke-width="0.6"/>
<line x1="434.50" y1="84.25" x2="445.75" y2="84.25" stroke="#7a7038" stroke-width="1.1"/>
<text class="s" x="429.50" y="85.62" font-size="3.8" font-style="italic" text-anchor="middle" fill="#444">0.4</text>
<line x1="485.10" y1="47.50" x2="485.10" y2="67.50" stroke="#ababab" stroke-width="0.7"/>
<line x1="485.10" y1="81.75" x2="485.10" y2="98.25" stroke="#ababab" stroke-width="0.7"/>
<line x1="484.30" y1="47.50" x2="485.90" y2="47.50" stroke="#666" stroke-width="0.7"/>
<line x1="484.30" y1="98.25" x2="485.90" y2="98.25" stroke="#666" stroke-width="0.7"/>
<rect x="479.50" y="67.50" width="11.25" height="14.25" fill="#e2d99e" stroke="#b0a880" stroke-width="0.6"/>
<line x1="479.50" y1="75.75" x2="490.75" y2="75.75" stroke="#7a7038" stroke-width="1.1"/>
<text class="s" x="475.00" y="77.12" font-size="3.8" font-style="italic" text-anchor="middle" fill="#444">0.7</text>
<text class="s" x="417.00" y="52.22" font-size="3.4" fill="#555" textLength="11.75" lengthAdjust="spacingAndGlyphs">P = .022</text>
<text class="s" x="441.25" y="128.05" font-size="6.4" font-weight="bold" text-anchor="middle" fill="#111" textLength="46.25" lengthAdjust="spacingAndGlyphs" stroke="#111" stroke-width="0.15">without cGVHD</text>
<text class="s" x="487.00" y="128.05" font-size="6.4" font-weight="bold" text-anchor="middle" fill="#111" stroke="#111" stroke-width="0.15">with cGVHD</text>
<text class="s" x="351.75" y="180.09" font-size="7.2" font-weight="bold" text-anchor="middle" fill="#111" textLength="46.25" lengthAdjust="spacingAndGlyphs" stroke="#111" stroke-width="0.15">Lymphocytes</text>
<text class="s" x="456.25" y="178.86" font-size="7.1" font-weight="bold" text-anchor="middle" fill="#111" textLength="45.50" lengthAdjust="spacingAndGlyphs" stroke="#111" stroke-width="0.15">Granulocytes</text>
<line x1="303.25" y1="187.00" x2="303.25" y2="267.00" stroke="#d2d2d2" stroke-width="0.7"/>
<line x1="303.25" y1="267.00" x2="413.00" y2="267.00" stroke="#d2d2d2" stroke-width="0.7"/>
<line x1="302.05" y1="189.50" x2="303.25" y2="189.50" stroke="#888" stroke-width="0.6"/>
<text class="s" x="301.65" y="190.65" font-size="3.2" font-style="italic" text-anchor="end" fill="#555">2.0</text>
<line x1="302.05" y1="208.00" x2="303.25" y2="208.00" stroke="#888" stroke-width="0.6"/>
<text class="s" x="301.65" y="209.15" font-size="3.2" font-style="italic" text-anchor="end" fill="#555">1.5</text>
<line x1="302.05" y1="226.25" x2="303.25" y2="226.25" stroke="#888" stroke-width="0.6"/>
<text class="s" x="301.65" y="227.40" font-size="3.2" font-style="italic" text-anchor="end" fill="#555">1.0</text>
<line x1="302.05" y1="244.50" x2="303.25" y2="244.50" stroke="#888" stroke-width="0.6"/>
<text class="s" x="301.65" y="245.65" font-size="3.2" font-style="italic" text-anchor="end" fill="#555">0.5</text>
<line x1="302.05" y1="263.00" x2="303.25" y2="263.00" stroke="#888" stroke-width="0.6"/>
<text class="s" x="301.65" y="264.15" font-size="3.2" font-style="italic" text-anchor="end" fill="#555">0.0</text>
<line x1="331.10" y1="267.00" x2="331.10" y2="268.00" stroke="#999" stroke-width="0.6"/>
<line x1="376.60" y1="267.00" x2="376.60" y2="268.00" stroke="#999" stroke-width="0.6"/>
<line x1="331.10" y1="218.75" x2="331.10" y2="233.25" stroke="#ababab" stroke-width="0.7"/>
<line x1="331.10" y1="252.00" x2="331.10" y2="259.50" stroke="#ababab" stroke-width="0.7"/>
<line x1="330.30" y1="218.75" x2="331.90" y2="218.75" stroke="#666" stroke-width="0.7"/>
<line x1="330.30" y1="259.50" x2="331.90" y2="259.50" stroke="#666" stroke-width="0.7"/>
<rect x="325.50" y="233.25" width="11.25" height="18.75" fill="#e2d99e" stroke="#b0a880" stroke-width="0.6"/>
<line x1="325.50" y1="244.25" x2="336.75" y2="244.25" stroke="#7a7038" stroke-width="1.1"/>
<text class="s" x="320.00" y="245.62" font-size="3.8" font-style="italic" text-anchor="middle" fill="#444">0.5</text>
<line x1="376.60" y1="196.25" x2="376.60" y2="222.00" stroke="#ababab" stroke-width="0.7"/>
<line x1="376.60" y1="240.75" x2="376.60" y2="255.00" stroke="#ababab" stroke-width="0.7"/>
<line x1="375.80" y1="196.25" x2="377.40" y2="196.25" stroke="#666" stroke-width="0.7"/>
<line x1="375.80" y1="255.00" x2="377.40" y2="255.00" stroke="#666" stroke-width="0.7"/>
<rect x="370.75" y="222.00" width="11.75" height="18.75" fill="#e2d99e" stroke="#b0a880" stroke-width="0.6"/>
<line x1="370.75" y1="235.00" x2="382.50" y2="235.00" stroke="#7a7038" stroke-width="1.1"/>
<text class="s" x="365.50" y="236.37" font-size="3.8" font-style="italic" text-anchor="middle" fill="#444">0.8</text>
<circle cx="376.6" cy="192" r="0.5" fill="#666"/>
<text class="s" x="310.00" y="207.47" font-size="3.4" fill="#555" textLength="11.00" lengthAdjust="spacingAndGlyphs">P = .017</text>
<text class="s" x="329.75" y="278.91" font-size="7.24" font-weight="bold" text-anchor="middle" fill="#111" textLength="39.50" lengthAdjust="spacingAndGlyphs" stroke="#111" stroke-width="0.15">Male Donor</text>
<text class="s" x="380.40" y="278.91" font-size="7.24" font-weight="bold" text-anchor="middle" fill="#111" stroke="#111" stroke-width="0.15">Female Donor</text>
<text class="s" x="284.20" y="222.70" font-size="5.7" font-weight="bold" text-anchor="middle" fill="#222" textLength="73.40" lengthAdjust="spacingAndGlyphs" transform="rotate(-90 284.20 222.70)" stroke="#222" stroke-width="0.15">Donor/Recipient Telomere</text>
<text class="s" x="290.10" y="223.90" font-size="5.7" font-weight="bold" text-anchor="middle" fill="#222" textLength="65.80" lengthAdjust="spacingAndGlyphs" transform="rotate(-90 290.10 223.90)" stroke="#222" stroke-width="0.15">Length Difference in kb</text>
<line x1="413.00" y1="187.50" x2="413.00" y2="266.25" stroke="#d2d2d2" stroke-width="0.7"/>
<line x1="413.00" y1="266.25" x2="515.00" y2="266.25" stroke="#d2d2d2" stroke-width="0.7"/>
<line x1="411.80" y1="188.75" x2="413.00" y2="188.75" stroke="#888" stroke-width="0.6"/>
<text class="s" x="411.40" y="189.90" font-size="3.2" font-style="italic" text-anchor="end" fill="#555">2.0</text>
<line x1="411.80" y1="203.75" x2="413.00" y2="203.75" stroke="#888" stroke-width="0.6"/>
<text class="s" x="411.40" y="204.90" font-size="3.2" font-style="italic" text-anchor="end" fill="#555">1.6</text>
<line x1="411.80" y1="218.75" x2="413.00" y2="218.75" stroke="#888" stroke-width="0.6"/>
<text class="s" x="411.40" y="219.90" font-size="3.2" font-style="italic" text-anchor="end" fill="#555">1.2</text>
<line x1="411.80" y1="233.75" x2="413.00" y2="233.75" stroke="#888" stroke-width="0.6"/>
<text class="s" x="411.40" y="234.90" font-size="3.2" font-style="italic" text-anchor="end" fill="#555">0.8</text>
<line x1="411.80" y1="248.75" x2="413.00" y2="248.75" stroke="#888" stroke-width="0.6"/>
<text class="s" x="411.40" y="249.90" font-size="3.2" font-style="italic" text-anchor="end" fill="#555">0.4</text>
<line x1="411.80" y1="263.75" x2="413.00" y2="263.75" stroke="#888" stroke-width="0.6"/>
<text class="s" x="411.40" y="264.90" font-size="3.2" font-style="italic" text-anchor="end" fill="#555">0.0</text>
<line x1="441.25" y1="266.25" x2="441.25" y2="267.25" stroke="#999" stroke-width="0.6"/>
<line x1="488.25" y1="266.25" x2="488.25" y2="267.25" stroke="#999" stroke-width="0.6"/>
<line x1="441.25" y1="218.25" x2="441.25" y2="227.50" stroke="#ababab" stroke-width="0.7"/>
<line x1="441.25" y1="245.50" x2="441.25" y2="255.00" stroke="#ababab" stroke-width="0.7"/>
<line x1="440.45" y1="218.25" x2="442.05" y2="218.25" stroke="#666" stroke-width="0.7"/>
<line x1="440.45" y1="255.00" x2="442.05" y2="255.00" stroke="#666" stroke-width="0.7"/>
<rect x="435.00" y="227.50" width="12.50" height="18.00" fill="#e2d99e" stroke="#b0a880" stroke-width="0.6"/>
<line x1="435.00" y1="236.75" x2="447.50" y2="236.75" stroke="#7a7038" stroke-width="1.1"/>
<text class="s" x="430.00" y="238.12" font-size="3.8" font-style="italic" text-anchor="middle" fill="#444">0.4</text>
<line x1="488.25" y1="197.50" x2="488.25" y2="215.50" stroke="#ababab" stroke-width="0.7"/>
<line x1="488.25" y1="235.50" x2="488.25" y2="251.25" stroke="#ababab" stroke-width="0.7"/>
<line x1="487.45" y1="197.50" x2="489.05" y2="197.50" stroke="#666" stroke-width="0.7"/>
<line x1="487.45" y1="251.25" x2="489.05" y2="251.25" stroke="#666" stroke-width="0.7"/>
<rect x="482.00" y="215.50" width="12.50" height="20.00" fill="#e2d99e" stroke="#b0a880" stroke-width="0.6"/>
<line x1="482.00" y1="229.25" x2="494.50" y2="229.25" stroke="#7a7038" stroke-width="1.1"/>
<text class="s" x="476.25" y="230.62" font-size="3.8" font-style="italic" text-anchor="middle" fill="#444">0.7</text>
<text class="s" x="417.50" y="201.22" font-size="3.4" fill="#555" textLength="11.25" lengthAdjust="spacingAndGlyphs">P = .024</text>
<text class="s" x="439.00" y="280.21" font-size="7.24" font-weight="bold" text-anchor="middle" fill="#111" textLength="39.50" lengthAdjust="spacingAndGlyphs" stroke="#111" stroke-width="0.15">Male Donor</text>
<text class="s" x="488.75" y="280.21" font-size="7.24" font-weight="bold" text-anchor="middle" fill="#111" stroke="#111" stroke-width="0.15">Female Donor</text>
<text class="s" x="347.50" y="345.59" font-size="7.2" font-weight="bold" text-anchor="middle" fill="#111" textLength="46.25" lengthAdjust="spacingAndGlyphs" stroke="#111" stroke-width="0.15">Lymphocytes</text>
<text class="s" x="452.50" y="343.86" font-size="7.1" font-weight="bold" text-anchor="middle" fill="#111" textLength="45.50" lengthAdjust="spacingAndGlyphs" stroke="#111" stroke-width="0.15">Granulocytes</text>
<line x1="300.50" y1="357.50" x2="300.50" y2="430.80" stroke="#d2d2d2" stroke-width="0.7"/>
<line x1="300.50" y1="430.80" x2="405.50" y2="430.80" stroke="#d2d2d2" stroke-width="0.7"/>
<line x1="299.30" y1="359.50" x2="300.50" y2="359.50" stroke="#888" stroke-width="0.6"/>
<text class="s" x="298.90" y="360.65" font-size="3.2" font-style="italic" text-anchor="end" fill="#555">2.0</text>
<line x1="299.30" y1="376.25" x2="300.50" y2="376.25" stroke="#888" stroke-width="0.6"/>
<text class="s" x="298.90" y="377.40" font-size="3.2" font-style="italic" text-anchor="end" fill="#555">1.5</text>
<line x1="299.30" y1="393.25" x2="300.50" y2="393.25" stroke="#888" stroke-width="0.6"/>
<text class="s" x="298.90" y="394.40" font-size="3.2" font-style="italic" text-anchor="end" fill="#555">1.0</text>
<line x1="299.30" y1="410.00" x2="300.50" y2="410.00" stroke="#888" stroke-width="0.6"/>
<text class="s" x="298.90" y="411.15" font-size="3.2" font-style="italic" text-anchor="end" fill="#555">0.5</text>
<line x1="299.30" y1="427.00" x2="300.50" y2="427.00" stroke="#888" stroke-width="0.6"/>
<text class="s" x="298.90" y="428.15" font-size="3.2" font-style="italic" text-anchor="end" fill="#555">0.0</text>
<line x1="317.00" y1="430.80" x2="317.00" y2="431.80" stroke="#999" stroke-width="0.6"/>
<line x1="339.75" y1="430.80" x2="339.75" y2="431.80" stroke="#999" stroke-width="0.6"/>
<line x1="362.90" y1="430.80" x2="362.90" y2="431.80" stroke="#999" stroke-width="0.6"/>
<line x1="385.40" y1="430.80" x2="385.40" y2="431.80" stroke="#999" stroke-width="0.6"/>
<line x1="317.00" y1="392.50" x2="317.00" y2="403.25" stroke="#ababab" stroke-width="0.7"/>
<line x1="317.00" y1="417.50" x2="317.00" y2="420.00" stroke="#ababab" stroke-width="0.7"/>
<line x1="316.20" y1="392.50" x2="317.80" y2="392.50" stroke="#666" stroke-width="0.7"/>
<line x1="316.20" y1="420.00" x2="317.80" y2="420.00" stroke="#666" stroke-width="0.7"/>
<rect x="313.25" y="403.25" width="7.50" height="14.25" fill="#e2d99e" stroke="#b0a880" stroke-width="0.6"/>
<line x1="313.25" y1="413.25" x2="320.75" y2="413.25" stroke="#7a7038" stroke-width="1.1"/>
<text class="s" x="308.25" y="414.62" font-size="3.8" font-style="italic" text-anchor="middle" fill="#444">0.4</text>
<line x1="339.75" y1="386.25" x2="339.75" y2="395.00" stroke="#ababab" stroke-width="0.7"/>
<line x1="339.75" y1="412.50" x2="339.75" y2="423.75" stroke="#ababab" stroke-width="0.7"/>
<line x1="338.95" y1="386.25" x2="340.55" y2="386.25" stroke="#666" stroke-width="0.7"/>
<line x1="338.95" y1="423.75" x2="340.55" y2="423.75" stroke="#666" stroke-width="0.7"/>
<rect x="336.25" y="395.00" width="7.00" height="17.50" fill="#e2d99e" stroke="#b0a880" stroke-width="0.6"/>
<line x1="336.25" y1="403.25" x2="343.25" y2="403.25" stroke="#7a7038" stroke-width="1.1"/>
<text class="s" x="331.25" y="404.62" font-size="3.8" font-style="italic" text-anchor="middle" fill="#444">0.7</text>
<line x1="362.90" y1="388.75" x2="362.90" y2="400.00" stroke="#ababab" stroke-width="0.7"/>
<line x1="362.90" y1="410.50" x2="362.90" y2="420.00" stroke="#ababab" stroke-width="0.7"/>
<line x1="362.10" y1="388.75" x2="363.70" y2="388.75" stroke="#666" stroke-width="0.7"/>
<line x1="362.10" y1="420.00" x2="363.70" y2="420.00" stroke="#666" stroke-width="0.7"/>
<rect x="359.50" y="400.00" width="6.75" height="10.50" fill="#e2d99e" stroke="#b0a880" stroke-width="0.6"/>
<line x1="359.50" y1="403.00" x2="366.25" y2="403.00" stroke="#7a7038" stroke-width="1.1"/>
<text class="s" x="354.50" y="404.37" font-size="3.8" font-style="italic" text-anchor="middle" fill="#444">0.7</text>
<line x1="385.40" y1="362.00" x2="385.40" y2="382.50" stroke="#ababab" stroke-width="0.7"/>
<line x1="385.40" y1="405.50" x2="385.40" y2="417.00" stroke="#ababab" stroke-width="0.7"/>
<line x1="384.60" y1="362.00" x2="386.20" y2="362.00" stroke="#666" stroke-width="0.7"/>
<line x1="384.60" y1="417.00" x2="386.20" y2="417.00" stroke="#666" stroke-width="0.7"/>
<rect x="382.00" y="382.50" width="6.75" height="23.00" fill="#e2d99e" stroke="#b0a880" stroke-width="0.6"/>
<line x1="382.00" y1="393.00" x2="388.75" y2="393.00" stroke="#7a7038" stroke-width="1.1"/>
<text class="s" x="376.75" y="394.37" font-size="3.8" font-style="italic" text-anchor="middle" fill="#444">0.8</text>
<text class="s" x="313.75" y="372.47" font-size="3.4" fill="#555" textLength="11.75" lengthAdjust="spacingAndGlyphs">P = .025</text>
<text class="s" x="285.60" y="388.20" font-size="5.7" font-weight="bold" text-anchor="middle" fill="#222" textLength="73.20" lengthAdjust="spacingAndGlyphs" transform="rotate(-90 285.60 388.20)" stroke="#222" stroke-width="0.15">Donor/Recipient Telomere</text>
<text class="s" x="291.50" y="388.20" font-size="5.7" font-weight="bold" text-anchor="middle" fill="#222" textLength="67.40" lengthAdjust="spacingAndGlyphs" transform="rotate(-90 291.50 388.20)" stroke="#222" stroke-width="0.15">Length Difference in kb</text>
<text class="s" x="306.25" y="440.23" font-size="6.2" font-weight="bold" fill="#111" textLength="12.96" lengthAdjust="spacingAndGlyphs" stroke="#111" stroke-width="0.15">Male</text>
<text class="s" x="306.25" y="447.13" font-size="6.2" font-weight="bold" fill="#111" textLength="20.71" lengthAdjust="spacingAndGlyphs" stroke="#111" stroke-width="0.15">without</text>
<text class="s" x="306.25" y="454.03" font-size="6.2" font-weight="bold" fill="#111" textLength="20.08" lengthAdjust="spacingAndGlyphs" stroke="#111" stroke-width="0.15">cGVHD</text>
<text class="s" x="330.00" y="440.23" font-size="6.2" font-weight="bold" fill="#111" textLength="12.96" lengthAdjust="spacingAndGlyphs" stroke="#111" stroke-width="0.15">Male</text>
<text class="s" x="330.00" y="447.13" font-size="6.2" font-weight="bold" fill="#111" textLength="11.65" lengthAdjust="spacingAndGlyphs" stroke="#111" stroke-width="0.15">with</text>
<text class="s" x="330.00" y="454.03" font-size="6.2" font-weight="bold" fill="#111" textLength="20.08" lengthAdjust="spacingAndGlyphs" stroke="#111" stroke-width="0.15">cGVHD</text>
<text class="s" x="353.00" y="440.23" font-size="6.2" font-weight="bold" fill="#111" textLength="20.09" lengthAdjust="spacingAndGlyphs" stroke="#111" stroke-width="0.15">Female</text>
<text class="s" x="353.00" y="447.13" font-size="6.2" font-weight="bold" fill="#111" textLength="20.71" lengthAdjust="spacingAndGlyphs" stroke="#111" stroke-width="0.15">without</text>
<text class="s" x="353.00" y="454.03" font-size="6.2" font-weight="bold" fill="#111" textLength="20.08" lengthAdjust="spacingAndGlyphs" stroke="#111" stroke-width="0.15">cGVHD</text>
<text class="s" x="375.50" y="440.23" font-size="6.2" font-weight="bold" fill="#111" textLength="20.09" lengthAdjust="spacingAndGlyphs" stroke="#111" stroke-width="0.15">Female</text>
<text class="s" x="375.50" y="447.13" font-size="6.2" font-weight="bold" fill="#111" textLength="11.65" lengthAdjust="spacingAndGlyphs" stroke="#111" stroke-width="0.15">with</text>
<text class="s" x="375.50" y="454.03" font-size="6.2" font-weight="bold" fill="#111" textLength="20.08" lengthAdjust="spacingAndGlyphs" stroke="#111" stroke-width="0.15">cGVHD</text>
<line x1="405.50" y1="356.25" x2="405.50" y2="430.00" stroke="#d2d2d2" stroke-width="0.7"/>
<line x1="405.50" y1="430.00" x2="505.00" y2="430.00" stroke="#d2d2d2" stroke-width="0.7"/>
<line x1="404.30" y1="358.25" x2="405.50" y2="358.25" stroke="#888" stroke-width="0.6"/>
<text class="s" x="403.90" y="359.40" font-size="3.2" font-style="italic" text-anchor="end" fill="#555">2.0</text>
<line x1="404.30" y1="372.00" x2="405.50" y2="372.00" stroke="#888" stroke-width="0.6"/>
<text class="s" x="403.90" y="373.15" font-size="3.2" font-style="italic" text-anchor="end" fill="#555">1.6</text>
<line x1="404.30" y1="385.75" x2="405.50" y2="385.75" stroke="#888" stroke-width="0.6"/>
<text class="s" x="403.90" y="386.90" font-size="3.2" font-style="italic" text-anchor="end" fill="#555">1.2</text>
<line x1="404.30" y1="399.50" x2="405.50" y2="399.50" stroke="#888" stroke-width="0.6"/>
<text class="s" x="403.90" y="400.65" font-size="3.2" font-style="italic" text-anchor="end" fill="#555">0.8</text>
<line x1="404.30" y1="413.25" x2="405.50" y2="413.25" stroke="#888" stroke-width="0.6"/>
<text class="s" x="403.90" y="414.40" font-size="3.2" font-style="italic" text-anchor="end" fill="#555">0.4</text>
<line x1="404.30" y1="426.25" x2="405.50" y2="426.25" stroke="#888" stroke-width="0.6"/>
<text class="s" x="403.90" y="427.40" font-size="3.2" font-style="italic" text-anchor="end" fill="#555">0.0</text>
<line x1="421.60" y1="430.00" x2="421.60" y2="431.00" stroke="#999" stroke-width="0.6"/>
<line x1="444.40" y1="430.00" x2="444.40" y2="431.00" stroke="#999" stroke-width="0.6"/>
<line x1="467.25" y1="430.00" x2="467.25" y2="431.00" stroke="#999" stroke-width="0.6"/>
<line x1="489.60" y1="430.00" x2="489.60" y2="431.00" stroke="#999" stroke-width="0.6"/>
<line x1="421.60" y1="385.00" x2="421.60" y2="396.25" stroke="#ababab" stroke-width="0.7"/>
<line x1="421.60" y1="410.50" x2="421.60" y2="418.75" stroke="#ababab" stroke-width="0.7"/>
<line x1="420.80" y1="385.00" x2="422.40" y2="385.00" stroke="#666" stroke-width="0.7"/>
<line x1="420.80" y1="418.75" x2="422.40" y2="418.75" stroke="#666" stroke-width="0.7"/>
<rect x="418.75" y="396.25" width="5.75" height="14.25" fill="#e2d99e" stroke="#b0a880" stroke-width="0.6"/>
<line x1="418.75" y1="402.50" x2="424.50" y2="402.50" stroke="#7a7038" stroke-width="1.1"/>
<text class="s" x="413.75" y="403.87" font-size="3.8" font-style="italic" text-anchor="middle" fill="#444">0.4</text>
<line x1="444.40" y1="385.00" x2="444.40" y2="393.75" stroke="#ababab" stroke-width="0.7"/>
<line x1="444.40" y1="403.75" x2="444.40" y2="412.50" stroke="#ababab" stroke-width="0.7"/>
<line x1="443.60" y1="385.00" x2="445.20" y2="385.00" stroke="#666" stroke-width="0.7"/>
<line x1="443.60" y1="412.50" x2="445.20" y2="412.50" stroke="#666" stroke-width="0.7"/>
<rect x="441.25" y="393.75" width="6.25" height="10.00" fill="#e2d99e" stroke="#b0a880" stroke-width="0.6"/>
<line x1="441.25" y1="394.25" x2="447.50" y2="394.25" stroke="#7a7038" stroke-width="1.1"/>
<text class="s" x="436.25" y="395.62" font-size="3.8" font-style="italic" text-anchor="middle" fill="#444">0.7</text>
<line x1="467.25" y1="379.50" x2="467.25" y2="393.75" stroke="#ababab" stroke-width="0.7"/>
<line x1="467.25" y1="407.50" x2="467.25" y2="410.50" stroke="#ababab" stroke-width="0.7"/>
<line x1="466.45" y1="379.50" x2="468.05" y2="379.50" stroke="#666" stroke-width="0.7"/>
<line x1="466.45" y1="410.50" x2="468.05" y2="410.50" stroke="#666" stroke-width="0.7"/>
<rect x="464.50" y="393.75" width="5.50" height="13.75" fill="#e2d99e" stroke="#b0a880" stroke-width="0.6"/>
<line x1="464.50" y1="399.25" x2="470.00" y2="399.25" stroke="#7a7038" stroke-width="1.1"/>
<text class="s" x="458.75" y="400.62" font-size="3.8" font-style="italic" text-anchor="middle" fill="#444">0.6</text>
<line x1="489.60" y1="366.25" x2="489.60" y2="381.25" stroke="#ababab" stroke-width="0.7"/>
<line x1="489.60" y1="397.00" x2="489.60" y2="416.25" stroke="#ababab" stroke-width="0.7"/>
<line x1="488.80" y1="366.25" x2="490.40" y2="366.25" stroke="#666" stroke-width="0.7"/>
<line x1="488.80" y1="416.25" x2="490.40" y2="416.25" stroke="#666" stroke-width="0.7"/>
<rect x="486.75" y="381.25" width="5.75" height="15.75" fill="#e2d99e" stroke="#b0a880" stroke-width="0.6"/>
<line x1="486.75" y1="390.75" x2="492.50" y2="390.75" stroke="#7a7038" stroke-width="1.1"/>
<text class="s" x="482.50" y="392.12" font-size="3.8" font-style="italic" text-anchor="middle" fill="#444">0.8</text>
<text class="s" x="412.50" y="371.72" font-size="3.4" fill="#555" textLength="10.00" lengthAdjust="spacingAndGlyphs">P = .026</text>
<text class="s" x="411.25" y="440.23" font-size="6.2" font-weight="bold" fill="#111" textLength="12.96" lengthAdjust="spacingAndGlyphs" stroke="#111" stroke-width="0.15">Male</text>
<text class="s" x="411.25" y="447.13" font-size="6.2" font-weight="bold" fill="#111" textLength="20.71" lengthAdjust="spacingAndGlyphs" stroke="#111" stroke-width="0.15">without</text>
<text class="s" x="411.25" y="454.03" font-size="6.2" font-weight="bold" fill="#111" textLength="20.08" lengthAdjust="spacingAndGlyphs" stroke="#111" stroke-width="0.15">cGVHD</text>
<text class="s" x="435.00" y="440.23" font-size="6.2" font-weight="bold" fill="#111" textLength="12.96" lengthAdjust="spacingAndGlyphs" stroke="#111" stroke-width="0.15">Male</text>
<text class="s" x="435.00" y="447.13" font-size="6.2" font-weight="bold" fill="#111" textLength="11.65" lengthAdjust="spacingAndGlyphs" stroke="#111" stroke-width="0.15">with</text>
<text class="s" x="435.00" y="454.03" font-size="6.2" font-weight="bold" fill="#111" textLength="20.08" lengthAdjust="spacingAndGlyphs" stroke="#111" stroke-width="0.15">cGVHD</text>
<text class="s" x="458.00" y="440.23" font-size="6.2" font-weight="bold" fill="#111" textLength="20.09" lengthAdjust="spacingAndGlyphs" stroke="#111" stroke-width="0.15">Female</text>
<text class="s" x="458.00" y="447.13" font-size="6.2" font-weight="bold" fill="#111" textLength="20.71" lengthAdjust="spacingAndGlyphs" stroke="#111" stroke-width="0.15">without</text>
<text class="s" x="458.00" y="454.03" font-size="6.2" font-weight="bold" fill="#111" textLength="20.08" lengthAdjust="spacingAndGlyphs" stroke="#111" stroke-width="0.15">cGVHD</text>
<text class="s" x="481.25" y="440.23" font-size="6.2" font-weight="bold" fill="#111" textLength="20.09" lengthAdjust="spacingAndGlyphs" stroke="#111" stroke-width="0.15">Female</text>
<text class="s" x="481.25" y="447.13" font-size="6.2" font-weight="bold" fill="#111" textLength="11.65" lengthAdjust="spacingAndGlyphs" stroke="#111" stroke-width="0.15">with</text>
<text class="s" x="481.25" y="454.03" font-size="6.2" font-weight="bold" fill="#111" textLength="20.08" lengthAdjust="spacingAndGlyphs" stroke="#111" stroke-width="0.15">cGVHD</text>
<path d="M26.25 353 C36 358.5 44 362 55 363.5 C68 365 80 365.5 100 366.5 L230 370 L230 405.5 L26.25 405.5 Z" fill="url(#hatch)"/>
<rect x="26.25" y="405.50" width="203.75" height="38.50" fill="#fdfed1" stroke="none" stroke-width="0"/>
<line x1="26.25" y1="405.80" x2="230.00" y2="405.80" stroke="#f2e39c" stroke-width="1.0"/>
<line x1="26.25" y1="327.50" x2="26.25" y2="444.50" stroke="#444" stroke-width="1.1"/>
<line x1="26.25" y1="444.00" x2="230.00" y2="444.00" stroke="#222" stroke-width="1.3"/>
<path d="M214.00 368 L217.00 368 L217.00 391.5 L218.40 391.5 L215.50 401.0 L212.60 391.5 L214.00 391.5 Z" fill="#e0142a"/>
<path d="M26.25 360 L47.5 373.25 L227.5 383.75" fill="none" stroke="#1c1c78" stroke-width="1.9" stroke-dasharray="7.3 3.2"/>
<path d="M26.25 382.7 L47 395.75 L227.5 406.25" fill="none" stroke="#1c1c78" stroke-width="1.9" stroke-dasharray="7.3 3.2"/>
<circle cx="26.25" cy="360" r="2.4" fill="#1c1c78"/>
<circle cx="47.5" cy="373.25" r="2.4" fill="#1c1c78"/>
<circle cx="26.25" cy="382.7" r="2.4" fill="#1c1c78"/>
<circle cx="47" cy="395.75" r="2.4" fill="#1c1c78"/>
<text class="s" x="112.00" y="374.40" font-size="7.6" font-weight="bold" fill="#1c1c78" textLength="27.60" lengthAdjust="spacingAndGlyphs" stroke="#1c1c78" stroke-width="0.15">Patient A</text>
<text class="s" x="110.80" y="396.80" font-size="7.6" font-weight="bold" fill="#1c1c78" textLength="27.70" lengthAdjust="spacingAndGlyphs" stroke="#1c1c78" stroke-width="0.15">Patient B</text>
<text class="s" x="180.00" y="361.63" font-size="6.6" font-weight="bold" fill="#c41a30" textLength="76.25" lengthAdjust="spacingAndGlyphs" stroke="#c41a30" stroke-width="0.3">Critical Telomere Length</text>
<text class="s" x="72.50" y="413.85" font-size="6.8" fill="#7e6e34" textLength="108.00" lengthAdjust="spacingAndGlyphs" style="white-space:pre" stroke="#7e6e34" stroke-width="0.25">Telomere  Senescence  Checkpoint</text>
<text class="s" x="86.80" y="456.18" font-size="6.6" font-weight="bold" fill="#111" textLength="85.50" lengthAdjust="spacingAndGlyphs" stroke="#111" stroke-width="0.15">Years after Transplantation</text>
<text class="s" x="18.08" y="382.50" font-size="6.6" font-weight="bold" text-anchor="middle" fill="#111" textLength="73.60" lengthAdjust="spacingAndGlyphs" transform="rotate(-90 18.08 382.50)" style="white-space:pre" stroke="#111" stroke-width="0.15">Telomere  Length  in  kb</text>
<path d="M26.25 511 C36 516 44 519 55 521 C68 523 80 524 110 526 L232.5 531 L232.5 561.5 L90 561.5 C60 560 40 556 26.25 548 Z" fill="url(#hatch2)"/>
<rect x="26.25" y="561.50" width="206.25" height="37.75" fill="#fdfed1" stroke="none" stroke-width="0"/>
<line x1="26.25" y1="562.00" x2="232.50" y2="562.00" stroke="#f2e39c" stroke-width="1.0"/>
<line x1="26.25" y1="485.50" x2="26.25" y2="599.70" stroke="#444" stroke-width="1.1"/>
<line x1="26.25" y1="599.25" x2="232.50" y2="599.25" stroke="#222" stroke-width="1.3"/>
<path d="M26.5 526.25 L48 538.25" fill="none" stroke="#e0202e" stroke-width="2" stroke-dasharray="8.4 3.3"/>
<path d="M48 538.25 L230.3 570.1" fill="none" stroke="#e0202e" stroke-width="2" stroke-dasharray="9.3 2.6" stroke-dashoffset="1.7"/>
<path d="M48 538.25 L223.9 592.3" fill="none" stroke="#e0202e" stroke-width="2" stroke-dasharray="8.4 3.3" stroke-dashoffset="0.6"/>
<circle cx="26.5" cy="526.25" r="2.5" fill="#e0202e"/>
<circle cx="48" cy="538.25" r="2.5" fill="#e0202e"/>
<text class="s" x="71.50" y="539.90" font-size="6.8" font-weight="bold" fill="#d41c30" textLength="27.00" lengthAdjust="spacingAndGlyphs" transform="rotate(8.7 71.50 539.90)" stroke="#d41c30" stroke-width="0.15">Patient C</text>
<text class="s" x="61.10" y="549.00" font-size="6.8" font-weight="bold" fill="#d41c30" textLength="26.80" lengthAdjust="spacingAndGlyphs" transform="rotate(16 61.10 549.00)" stroke="#d41c30" stroke-width="0.15">Patient D</text>
<path d="M125.00 517 L128.00 517 L128.00 548.75 L129.20 548.75 L126.50 558.75 L123.80 548.75 L125.00 548.75 Z" fill="#e0142a"/>
<path d="M182.75 525.75 L185.75 525.75 L185.75 548.5 L186.95 548.5 L184.25 557.4 L181.55 548.5 L182.75 548.5 Z" fill="#e0142a"/>
<text class="s" x="87.50" y="512.30" font-size="6.6" font-weight="bold" fill="#c41a30" textLength="85.00" lengthAdjust="spacingAndGlyphs" stroke="#c41a30" stroke-width="0.3">cGVHD and a Female Donor</text>
<text class="s" x="174.50" y="524.05" font-size="6.6" font-weight="bold" fill="#c41a30" textLength="21.75" lengthAdjust="spacingAndGlyphs" stroke="#c41a30" stroke-width="0.3">cGVHD</text>
<text class="s" x="70.50" y="568.75" font-size="6.8" fill="#7e6e34" textLength="108.25" lengthAdjust="spacingAndGlyphs" style="white-space:pre" stroke="#7e6e34" stroke-width="0.25">Telomere  Senescence  Checkpoint</text>
<text class="s" x="79.50" y="613.68" font-size="6.6" font-weight="bold" fill="#111" textLength="84.25" lengthAdjust="spacingAndGlyphs" stroke="#111" stroke-width="0.15">Years after Transplantation</text>
<text class="s" x="16.38" y="538.00" font-size="6.6" font-weight="bold" text-anchor="middle" fill="#111" textLength="73.10" lengthAdjust="spacingAndGlyphs" transform="rotate(-90 16.38 538.00)" style="white-space:pre" stroke="#111" stroke-width="0.15">Telomere  Length  in  kb</text>
</svg>
</body></html>
